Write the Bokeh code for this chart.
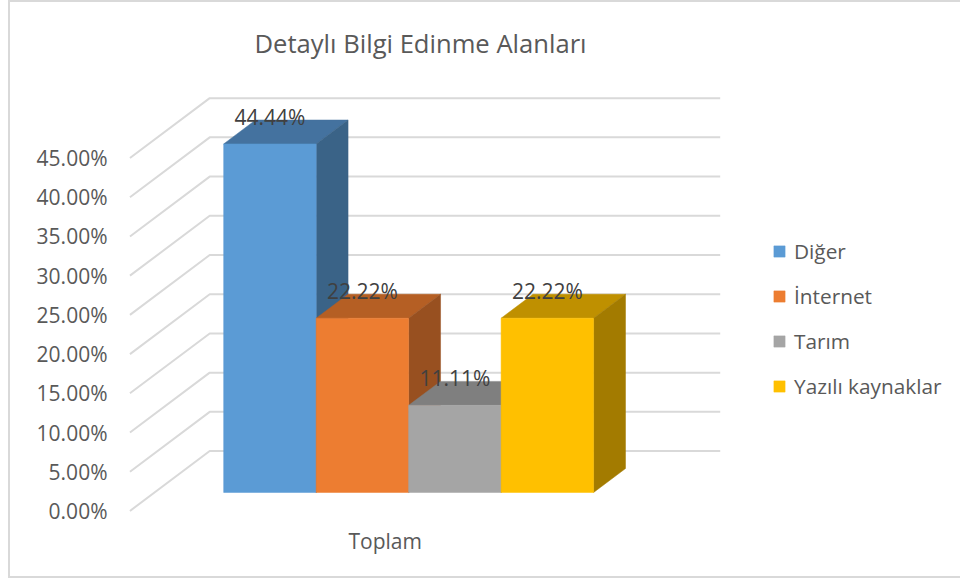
from bokeh.plotting import figure
from bokeh.models import Range1d, FixedTicker, NumeralTickFormatter, Title, Legend, LegendItem
from bokeh.core.properties import value
from bokeh.embed import file_html
from bokeh.resources import INLINE

categories = ["Diğer", "İnternet", "Tarım", "Yazılı kaynaklar"]
values = [0.4444, 0.2222, 0.1111, 0.2222]
labels = ["44.44%", "22.22%", "11.11%", "22.22%"]
ticks = [0.0, 0.05, 0.10, 0.15, 0.20, 0.25, 0.30, 0.35, 0.40, 0.45]
x_label = "Toplam"
title = "Detaylı Bilgi Edinme Alanları"
front_cols = ["#5b9bd5", "#ed7d31", "#a5a5a5", "#ffc000"]
top_cols = ["#44729f", "#b55f24", "#7f7f7f", "#bf9000"]
side_cols = ["#3a6387", "#985020", "#6b6b6b", "#a37b00"]

FONT = "Open Sans"
W, H = 950, 574
PX_X = 92.75      # pixels per bar width
PX_Y = 786.0      # pixels per 100%
F_L, F_R, F_T, F_B = 114.5, 960, 81, 525   # frame edges in page pixels
X0, Y0 = 223, 512.4                        # page pixel of data x=0 / y=0

def dx(px): return px / PX_X
def dy(px): return px / PX_Y

p = figure(width=W, height=H, output_backend="svg", toolbar_location=None,
           x_range=Range1d(dx(F_L - X0), dx(F_R - X0)),
           y_range=Range1d(dy(Y0 - F_B), dy(Y0 - F_T)),
           min_border_left=105, min_border_right=4, min_border_top=78,
           min_border_bottom=57)
p.styles = {"margin-left": "8px", "border-left": "2px solid #d9d9d9",
            "border-top": "2px solid #d9d9d9", "border-bottom": "2px solid #d9d9d9",
            "box-sizing": "content-box"}
p.outline_line_color = None
p.xgrid.visible = False
p.ygrid.visible = False

# walls: front-left -> back-left -> back-right
floor_l = dx(129 - X0)
floor_w = dx(512)
depth_x, depth_y = dx(80), dy(60)
for t in ticks:
    p.line([floor_l, floor_l + depth_x, floor_l + depth_x + floor_w],
           [t, t + depth_y, t + depth_y], line_color="#d9d9d9", line_width=2)

# bars
off_y = dy(18.5)
bx, by = dx(32), dy(24)
items = []
for i, v in enumerate(values):
    y0, y1 = off_y, v + off_y
    p.patch([i, i + bx, i + 1 + bx, i + 1], [y1, y1 + by, y1 + by, y1],
            fill_color=top_cols[i], line_color=top_cols[i], line_width=0.5)
    p.patch([i + 1, i + 1 + bx, i + 1 + bx, i + 1], [y0, y0 + by, y1 + by, y1],
            fill_color=side_cols[i], line_color=side_cols[i], line_width=0.5)
    r = p.quad(left=[i], right=[i + 1], bottom=[y0], top=[y1],
               fill_color=front_cols[i], line_color=front_cols[i], line_width=0.5)
    items.append(LegendItem(label=categories[i], renderers=[r]))
for i, v in enumerate(values):
    p.text([i + 0.5], [v + off_y + dy(27)], text=[labels[i]], text_align="center",
           text_baseline="middle", text_font=value(FONT), text_font_size="21px",
           text_color="#404040")

# axes
p.yaxis.ticker = FixedTicker(ticks=ticks)
p.yaxis.formatter = NumeralTickFormatter(format="0.00%")
p.yaxis.axis_line_color = None
p.yaxis.major_tick_line_color = None
p.yaxis.minor_tick_line_color = None
p.yaxis.major_tick_in = 0
p.yaxis.major_tick_out = 0
p.yaxis.major_label_standoff = 8
p.yaxis.major_label_text_font = FONT
p.yaxis.major_label_text_font_size = "21px"
p.yaxis.major_label_text_color = "#595959"

tick_x = floor_l + floor_w / 2
p.xaxis.ticker = FixedTicker(ticks=[tick_x])
p.xaxis.major_label_overrides = {tick_x: x_label}
p.xaxis.axis_line_color = None
p.xaxis.major_tick_line_color = None
p.xaxis.minor_tick_line_color = None
p.xaxis.major_tick_in = 0
p.xaxis.major_tick_out = 0
p.xaxis.major_label_standoff = 3
p.xaxis.major_label_text_font = FONT
p.xaxis.major_label_text_font_size = "21px"
p.xaxis.major_label_text_color = "#595959"

# title
p.add_layout(Title(text=title, align="left", offset=139, standoff=40, text_font=FONT,
                   text_font_size="25.6px", text_font_style="normal", text_color="#595959"), "above")

# legend
leg = Legend(items=items, location=(657, 123), orientation="vertical",
             border_line_color=None, background_fill_alpha=0,
             glyph_width=14, glyph_height=14, label_standoff=8, spacing=17, margin=0, padding=0,
             label_text_font=FONT, label_text_font_size="20.8px", label_text_color="#595959",
             label_height=20)
p.add_layout(leg, "center")

open("out.html", "w").write(file_html(p, INLINE))
